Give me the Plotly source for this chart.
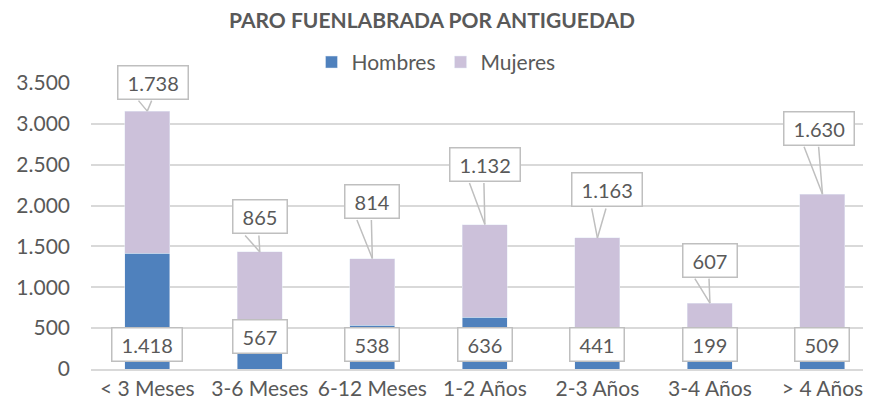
import plotly.graph_objects as go

categories = ["< 3 Meses", "3-6 Meses", "6-12 Meses", "1-2 Años", "2-3 Años", "3-4 Años", "> 4 Años"]
hombres = [1418, 567, 538, 636, 441, 199, 509]
mujeres = [1738, 865, 814, 1132, 1163, 607, 1630]
y_ticks = [0, 500, 1000, 1500, 2000, 2500, 3000, 3500]

# layout of the callout boxes (pixel offsets from the top of each bar)
callout_dx = [6, 0, 0, 0, 10, 0, -3]
callout_dy = [29, 35, 57, 60, 48, 43, 66]
base_dy = [25, 33, 25, 25, 25, 25, 25]

TXT = "#595959"
FONT = "Lato"
BORDER = "#BFBFBF"
FS = 21


def fmt(v):
    return f"{v:,}".replace(",", ".")


fig = go.Figure()
fig.add_trace(go.Bar(name="Hombres", x=categories, y=hombres, marker_color="#4F81BD"))
fig.add_trace(go.Bar(name="Mujeres", x=categories, y=mujeres, marker_color="#CCC1DA"))

annotations = []
for i, cat in enumerate(categories):
    total = hombres[i] + mujeres[i]
    # Hombres label at the base
    annotations.append(dict(
        x=cat, y=0, xref="x", yref="y", yanchor="middle", yshift=base_dy[i],
        text="\u00a0" + fmt(hombres[i]) + "\u00a0", showarrow=False,
        font=dict(family=FONT, size=FS - 1, color=TXT),
        bgcolor="white", bordercolor=BORDER, borderwidth=1.5, borderpad=4,
    ))
    # Mujeres callout box
    annotations.append(dict(
        x=cat, y=total, xref="x", yref="y", yanchor="middle",
        xshift=callout_dx[i], yshift=callout_dy[i],
        text="\u00a0" + fmt(mujeres[i]) + "\u00a0", showarrow=False,
        font=dict(family=FONT, size=FS - 1, color=TXT),
        bgcolor="white", bordercolor=BORDER, borderwidth=1.5, borderpad=4,
    ))
    # wedge of the callout
    for off in (-16, -1):
        annotations.append(dict(
            x=cat, y=total, xref="x", yref="y", text="", showarrow=True,
            ax=callout_dx[i] + off, ay=-(callout_dy[i] - 17),
            arrowhead=0, arrowwidth=1.5, arrowcolor=BORDER, standoff=0, startstandoff=0,
        ))

W = 855
fig.update_layout(
    width=W, height=393,
    barmode="stack", bargap=0.6,
    separators=",.",
    paper_bgcolor="white", plot_bgcolor="white",
    margin=dict(l=83, r=0, t=74.5, b=32),
    font=dict(family=FONT, size=FS, color=TXT),
    title=dict(text="<b>PARO FUENLABRADA POR ANTIGUEDAD</b>", x=424 / W, xanchor="center",
               y=1 - 13 / 393, yanchor="middle", font=dict(family=FONT, size=FS, color=TXT)),
    legend=dict(orientation="h", x=345 / (W - 83), xanchor="center", y=1.072, yanchor="middle",
                font=dict(family=FONT, size=FS, color=TXT), itemwidth=30, traceorder="normal"),
    annotations=annotations,
    showlegend=True,
)
fig.update_xaxes(range=[-0.5, 6.36], showline=True, linecolor="#D9D9D9", linewidth=1.5,
                 ticks="", tickfont=dict(family=FONT, size=FS, color=TXT), fixedrange=True)
fig.update_yaxes(range=[0, 3500], tickvals=y_ticks, tickformat=",d", showgrid=True,
                 gridcolor="#D9D9D9", gridwidth=1.5, zeroline=False, ticks="",
                 ticklabelstandoff=20, tickfont=dict(family=FONT, size=FS, color=TXT))

fig.write_html("out.html")
